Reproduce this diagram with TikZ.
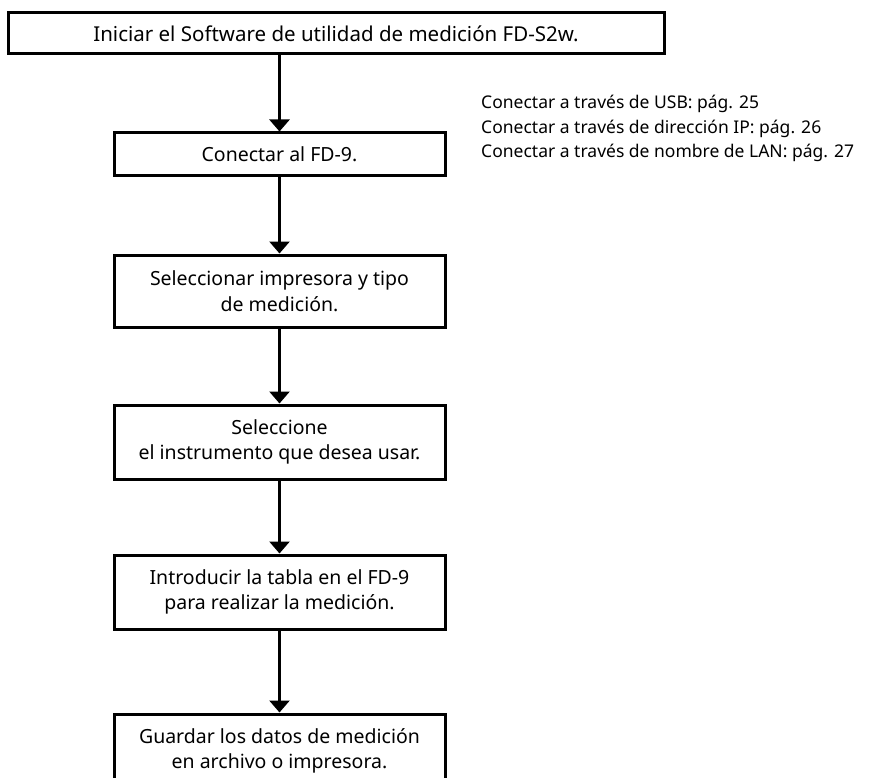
\documentclass[tikz,border=0pt]{standalone}
\usepackage{fontspec}
\setmainfont{Noto Sans}
\usetikzlibrary{arrows.meta}
\tikzset{
  stepbox/.style={draw=black, line width=3pt, fill=white, align=center, inner sep=0pt,
     font=\fontsize{19.5}{25.5}\selectfont},
  flow/.style={line width=2.6pt, -{Triangle[width=20pt,length=12pt]}},
  note/.style={anchor=west, inner sep=0pt, font=\fontsize{17.5}{20}\selectfont}
}
\begin{document}
\begin{tikzpicture}[x=1pt,y=-1pt]
\useasboundingbox (0,0) rectangle (869,778);
\clip (0,0) rectangle (869,778);
\node[stepbox, minimum width=656pt, minimum height=41pt, font=\fontsize{20.5}{25}\selectfont] (s1) at (336,33.5) {Iniciar el Software de utilidad de medición FD-S2w.};
\node[stepbox, minimum width=331pt, minimum height=43pt] (s2) at (279.5,154.5) {Conectar al FD-9.};
\node[stepbox, minimum width=331pt, minimum height=72pt] (s3) at (279.5,291) {Seleccionar impresora y tipo\\de medición.};
\node[stepbox, minimum width=331pt, minimum height=74pt] (s4) at (279.5,442) {Seleccione\\el instrumento que desea usar.};
\node[stepbox, minimum width=331pt, minimum height=74pt] (s5) at (279.5,592) {Introducir la tabla en el FD-9\\para realizar la medición.};
\node[stepbox, minimum width=331pt, minimum height=74pt] (s6) at (279.5,751) {Guardar los datos de medición\\en archivo o impresora.};
\coordinate (a1) at (279.5,54);
\draw[flow] (a1) -- (s2.north);
\draw[flow] (s2.south) -- (s3.north);
\draw[flow] (s3.south) -- (s4.north);
\draw[flow] (s4.south) -- (s5.north);
\draw[flow] (s5.south) -- (s6.north);
\node[note] (n1) at (481,104) {Conectar a través de USB: pág. 25};
\node[note] (n2) at (481,128.5) {Conectar a través de dirección IP: pág. 26};
\node[note] (n3) at (481,153) {Conectar a través de nombre de LAN: pág. 27};
\end{tikzpicture}
\end{document}
